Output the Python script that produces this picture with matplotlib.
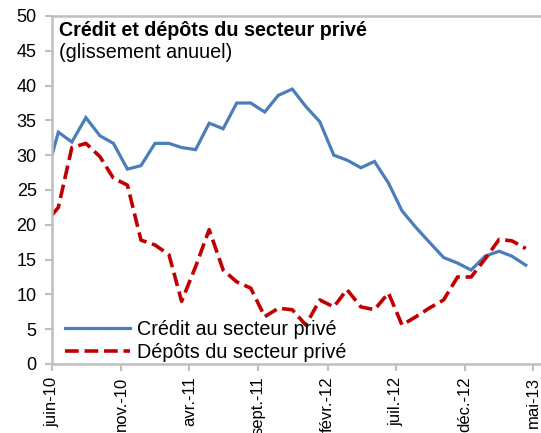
import matplotlib
matplotlib.use("Agg")
from matplotlib import pyplot as plt
import matplotlib.transforms as mtransforms
import pandas as pd

plt.rcParams['font.family'] = ['Liberation Sans', 'DejaVu Sans']

# first point sits on 1 June 2010, the rest are monthly (mid-month) from June 2010 to April 2013
dates = [pd.Timestamp('2010-06-01')] + list(pd.date_range('2010-06-01', periods=35, freq='MS') + pd.Timedelta(days=14))

credit = [30.0, 33.3, 31.9, 35.4, 32.8, 31.7, 28.0, 28.5, 31.7, 31.7,
          31.1, 30.8, 34.6, 33.8, 37.5, 37.5, 36.2, 38.6, 39.5, 37.0,
          34.8, 30.0, 29.3, 28.2, 29.1, 26.0, 22.0, 19.6, 17.4, 15.3,
          14.5, 13.5, 15.5, 16.2, 15.5, 14.2]
depots = [21.4, 22.5, 31.1, 31.7, 29.8, 26.7, 25.7, 17.8, 17.1, 15.7,
          9.0, 14.0, 19.3, 13.5, 11.8, 10.9, 6.8, 8.0, 7.8, 5.6,
          9.2, 8.2, 10.7, 8.2, 7.8, 10.2, 5.6, 6.8, 8.1, 9.2,
          12.5, 12.5, 15.1, 17.9, 17.7, 16.6]

tick_dates = pd.to_datetime(['2010-06-01', '2010-11-01', '2011-04-01', '2011-09-01',
                             '2012-02-01', '2012-07-01', '2012-12-01', '2013-05-01'])
tick_labels = ['juin-10', 'nov.-10', 'avr.-11', 'sept.-11', 'févr.-12', 'juil.-12', 'déc.-12', 'mai-13']

fig = plt.figure(figsize=(5.41, 4.33), dpi=100)
ax = fig.add_axes([52/541, 69/433, 495/541, 348/433])

ax.plot(dates, credit, color='#4A7EBB', lw=2.3, label='Crédit au secteur privé', solid_joinstyle='miter')
ax.plot(dates, depots, color='#C00000', lw=2.6, dashes=(3.8, 1.6), label='Dépôts du secteur privé')

ax.set_xlim(pd.Timestamp('2010-06-01'), pd.Timestamp('2013-06-01'))
ax.set_ylim(0, 50)
ax.set_yticks(range(0, 51, 5))
ax.set_xticks(tick_dates)
ax.set_xticklabels(tick_labels, rotation=90, fontsize=12, va='top', ha='center')
offset = mtransforms.ScaledTranslation(9/100, 0, fig.dpi_scale_trans)
for lab in ax.get_xticklabels():
    lab.set_transform(lab.get_transform() + offset)

ax.tick_params(axis='y', labelsize=13, direction='out', length=5, width=1.5, color='#BFBFBF', pad=6)
ax.tick_params(axis='x', direction='out', length=5, width=1.5, color='#BFBFBF', pad=4)
for side in ['left', 'top', 'bottom']:
    ax.spines[side].set_color('#BFBFBF')
    ax.spines[side].set_linewidth(1.8)
ax.spines['right'].set_visible(False)

ax.text(0.014, 0.9434, 'Crédit et dépôts du secteur privé', transform=ax.transAxes,
        fontsize=14.2, fontweight='bold', va='baseline', ha='left')
ax.text(0.014, 0.879, '(glissement anuuel)', transform=ax.transAxes,
        fontsize=14.2, va='baseline', ha='left')

ax.legend(loc='lower left', bbox_to_anchor=(0.022, 0.0), frameon=False, fontsize=14.2,
          handlelength=3.3, handletextpad=0.35, labelspacing=0.2, borderpad=0, borderaxespad=0.1)

fig.savefig('out.png', dpi=100)
